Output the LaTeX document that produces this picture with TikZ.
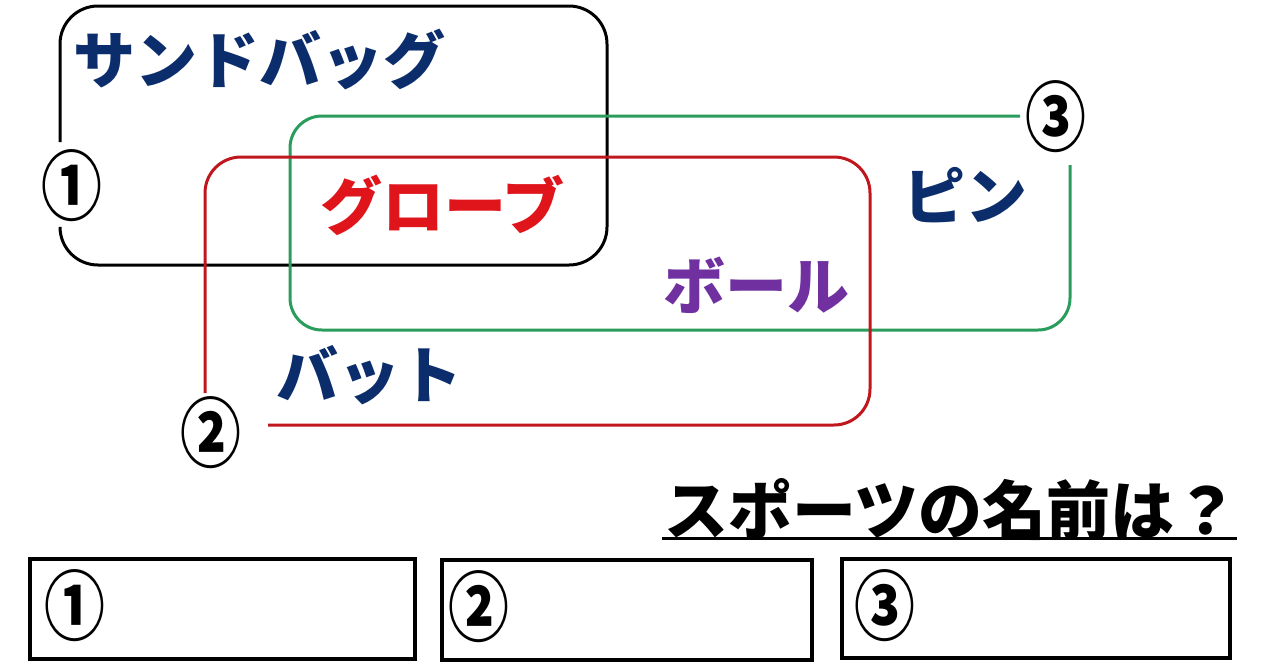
\documentclass[tikz,border=0pt]{standalone}
\usepackage{fontspec}
\newfontfamily\jp{Noto Sans CJK JP}
\definecolor{navy}{HTML}{0B2D6B}
\definecolor{tred}{HTML}{E0141B}
\definecolor{lred}{HTML}{C0161D}
\definecolor{tpurple}{HTML}{7030A0}
\definecolor{tgreen}{HTML}{2A9D5C}
\tikzset{
  lbl/.style={inner sep=0pt, anchor=west, font=\jp\bfseries\fontsize{62}{62}\selectfont},
  num/.style={inner sep=0pt, font=\jp\bfseries\fontsize{76}{76}\selectfont, xscale=0.8},
  frame/.style={line width=3pt, rounded corners=38pt},
  ansbox/.style={draw, line width=3.5pt}
}
\begin{document}
\begin{tikzpicture}[x=1pt,y=-1pt]
\useasboundingbox (0,0) rectangle (1280,670);
% frames
\draw[frame, black] (60,142) -- (60,6) -- (607,6) -- (607,265) -- (60,265) -- (60,230);
\draw[frame, tgreen, rounded corners=32pt] (1020,116) -- (290,116) -- (290,330) -- (1070,330) -- (1070,165);
\draw[frame, lred, rounded corners=36pt] (205,393) -- (205,157) -- (870,157) -- (870,425) -- (268,425);
% numbers
\node[num] (n1) at (72,186) {①};
\node[num] (n2) at (211,433) {②};
\node[num] (n3) at (1056,117) {③};
% words
\node[lbl, text=navy] (w1) at (73,60) {サンドバッグ};
\node[lbl, text=tred] (w2) at (320,205) {グローブ};
\node[lbl, text=navy] (w3) at (903,195) {ピン};
\node[lbl, text=tpurple] (w4) at (663,285) {ボール};
\node[lbl, text=navy] (w5) at (276,375) {バット};
% question
\node[lbl, text=black, font=\jp\bfseries\fontsize{64}{64}\selectfont] (q) at (664,510) {スポーツの名前は？};
\draw[line width=3pt] (662,538) -- (1237,538);
% answer boxes
\node[ansbox, minimum width=385pt, minimum height=100pt, anchor=north west] (b1) at (28,557) {};
\node[ansbox, minimum width=370pt, minimum height=100pt, anchor=north west] (b2) at (440,558) {};
\node[ansbox, minimum width=388pt, minimum height=99pt, anchor=north west] (b3) at (840,557) {};
\node[num] (a1) at (75,606) {①};
\node[num] (a2) at (479,607) {②};
\node[num] (a3) at (885,606) {③};
\end{tikzpicture}
\end{document}
